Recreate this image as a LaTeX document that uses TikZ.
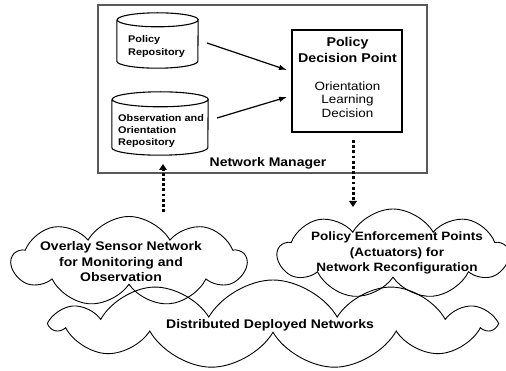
\documentclass[tikz,border=0pt]{standalone}
\usepackage{fontspec}
\setmainfont{Liberation Sans}[FakeStretch=1.12]
\usetikzlibrary{shapes.symbols,arrows.meta}
\begin{document}
\begin{tikzpicture}[x=1pt,y=1pt,
 nmbox/.style={draw=black!65, line width=1.4pt},
 cyl/.style={draw, line width=1.1pt},
 hidden/.style={draw=none, inner sep=0},
 pdpbox/.style={draw, line width=1.4pt, minimum width=110pt, minimum height=102pt, inner sep=0},
 lbl/.style={font=\bfseries\fontsize{12.5}{15.5}\selectfont, align=center, inner sep=0},
 sublbl/.style={font=\fontsize{12}{13.5}\selectfont, align=center, inner sep=0},
 smalllbl/.style={font=\bfseries\fontsize{9.7}{12.3}\selectfont, align=left, inner sep=0},
 arr/.style={line width=1.2pt, -{Latex[length=8pt,width=5.5pt]}},
 dotarr/.style={line width=3pt, dash pattern=on 2.8pt off 2.4pt, -{Triangle[length=6pt,width=7.5pt]}},
 cloudy/.style={cloud, cloud puff arc=120, cloud ignores aspect, draw, line width=0.9pt, inner sep=0},
]
\useasboundingbox (0,0) rectangle (506,370);
\fill[white] (0,0) rectangle (506,370);

% clouds
\node[cloudy, cloud puffs=9, minimum width=234pt, minimum height=90pt] (osc) at (129,108.5) {};
\node[cloudy, cloud puffs=9, minimum width=230pt, minimum height=90pt] (pepc) at (393,116) {};
\node[cloudy, cloud puffs=11, minimum width=440pt, minimum height=89pt] (ddc) at (273,45.5) {};
\node[lbl] (ost) at (121,108) {Overlay Sensor Network\\for Monitoring and\\Observation};
\node[lbl, font=\bfseries\fontsize{12.1}{15.5}\selectfont] (pept) at (397,117) {Policy Enforcement Points\\(Actuators) for\\Network Reconfiguration};
\node[lbl] (ddt) at (270,45) {Distributed Deployed Networks};

% network manager box
\node[nmbox, minimum width=329pt, minimum height=168pt, inner sep=0] (nm) at (262.5,281) {};
\node[lbl] (nmt) at (268,207) {Network Manager};

% policy repository cylinder
\node[hidden, minimum width=81pt, minimum height=55pt] (pr) at (157.5,329.5) {};
\draw[cyl] ([yshift=-7pt]pr.north west) -- ([yshift=7pt]pr.south west)
  arc[start angle=180, end angle=360, x radius=40.5pt, y radius=7pt]
  -- ([yshift=-7pt]pr.north east)
  arc[start angle=0, end angle=360, x radius=40.5pt, y radius=7pt];
\node[smalllbl, anchor=west] (prt) at (128,323.5) {Policy\\Repository};

% observation repository cylinder
\node[hidden, minimum width=96pt, minimum height=63pt] (or) at (160,246.5) {};
\draw[cyl] ([yshift=-7.5pt]or.north west) -- ([yshift=7.5pt]or.south west)
  arc[start angle=180, end angle=360, x radius=48pt, y radius=7.5pt]
  -- ([yshift=-7.5pt]or.north east)
  arc[start angle=0, end angle=360, x radius=48pt, y radius=7.5pt];
\node[smalllbl, anchor=west] (ort) at (118,239) {Observation and\\Orientation\\Repository};

% policy decision point
\node[pdpbox] (pdp) at (347,289) {};
\node[lbl, font=\bfseries\fontsize{12.7}{16}\selectfont] (pdpt) at (347.5,320) {Policy\\Decision Point};
\node[sublbl] (pdps) at (347.5,270.5) {Orientation\\Learning\\Decision};

% arrows
\coordinate (a1s) at (207,327);
\coordinate (a1e) at (287,300);
\coordinate (a2s) at (217,252);
\coordinate (a2e) at (287,273);
\draw[arr] (a1s) -- (a1e);
\draw[arr] (a2s) -- (a2e);

\coordinate (l1) at (163,158);
\coordinate (l2) at (163,206);
\draw[dotarr] (l1) -- (l2);
\coordinate (r1) at (353,230);
\coordinate (r2) at (353,163);
\draw[dotarr] (r1) -- (r2);
\end{tikzpicture}
\end{document}
